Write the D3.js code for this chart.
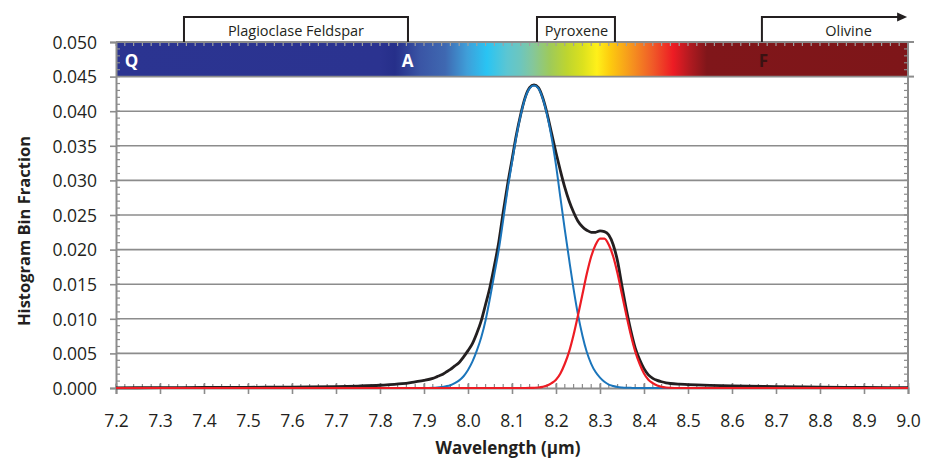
<!DOCTYPE html>
<html><head><meta charset="utf-8">
<script src="https://cdn.jsdelivr.net/npm/d3@7/dist/d3.min.js"></script>
<style>
html,body{margin:0;padding:0;background:#fff;}
svg{display:block;font-family:"Open Sans",sans-serif;}
</style></head><body>
<svg id="chart" width="935" height="458"></svg>
<script>
// ---------------- DATA ----------------
const wavelength = [
  7.20, 7.30, 7.40, 7.50, 7.60, 7.70, 7.75, 7.80, 7.85, 7.88, 7.90, 7.92, 7.93, 7.94, 7.95, 7.96, 7.97, 7.98, 7.99,
  8.00, 8.01, 8.02, 8.03, 8.04, 8.05, 8.06, 8.07, 8.08, 8.09,
  8.10, 8.11, 8.12, 8.13, 8.14, 8.15, 8.16, 8.17, 8.18, 8.19,
  8.20, 8.21, 8.22, 8.23, 8.24, 8.25, 8.26, 8.27, 8.28, 8.29,
  8.30, 8.31, 8.32, 8.33, 8.34, 8.35, 8.36, 8.37, 8.38, 8.39,
  8.40, 8.41, 8.42, 8.43, 8.44, 8.45, 8.46,
  8.48, 8.50, 8.55, 8.60, 8.70, 8.80, 8.90, 9.00
];
// total histogram (black)
const totalFraction = [
  0.00003, 0.00005, 0.00008, 0.0001, 0.00014, 0.0002, 0.00028, 0.0004, 0.00062, 0.0009, 0.0011, 0.0014, 0.00165, 0.0019, 0.0023, 0.0027, 0.0032, 0.0037, 0.0045,
  0.0054, 0.0064, 0.0079, 0.0097, 0.0121, 0.0146, 0.0177, 0.0211, 0.0254, 0.0294,
  0.0330, 0.0366, 0.0396, 0.0420, 0.0434, 0.0438, 0.0434, 0.0419, 0.0396, 0.0368,
  0.0340, 0.0314, 0.0290, 0.0270, 0.0254, 0.0241, 0.0233, 0.0228, 0.0225, 0.0225,
  0.0227, 0.0226, 0.0221, 0.0207, 0.0183, 0.0147, 0.0113, 0.0083, 0.0058, 0.0041,
  0.0028, 0.0019, 0.0014, 0.0011, 0.0009, 0.00075, 0.00065,
  0.00055, 0.0005, 0.00037, 0.0003, 0.0002, 0.00013, 0.00008, 0.00005
];
// first fitted component (blue)
const componentBlue = [
  0, 0, 0, 0, 0, 0, 0, 0, 0, 0, 0, 0.00003, 0.00007, 0.00014, 0.00025, 0.0004, 0.0007, 0.0011, 0.0017,
  0.0026, 0.0038, 0.0054, 0.0073, 0.0098, 0.0130, 0.0165, 0.0200, 0.0243, 0.0287,
  0.0326, 0.0364, 0.0395, 0.0419, 0.0433, 0.0437, 0.0433, 0.0418, 0.0394, 0.0362,
  0.0322, 0.0275, 0.0229, 0.0185, 0.0143, 0.0106, 0.0076, 0.0052, 0.0035, 0.0023,
  0.0015, 0.0009, 0.0005, 0.0003, 0.00015, 0.00008, 0.00004, 0.00002, 0, 0,
  0, 0, 0, 0, 0, 0, 0,
  0, 0, 0, 0, 0, 0, 0, 0
];
// second fitted component (red)
const componentRed = [
  0, 0, 0, 0, 0, 0, 0, 0, 0, 0, 0, 0, 0, 0, 0, 0, 0, 0, 0,
  0, 0, 0, 0, 0, 0, 0, 0, 0, 0,
  0, 0, 0, 0, 0.00001, 0.00003, 0.00007, 0.00017, 0.00035, 0.0007,
  0.0012, 0.0021, 0.0035, 0.0053, 0.0077, 0.0105, 0.0135, 0.0165, 0.0190, 0.0207,
  0.0216, 0.0216, 0.0207, 0.0190, 0.0165, 0.0135, 0.0105, 0.0077, 0.0053, 0.0035,
  0.0021, 0.0012, 0.0007, 0.00035, 0.00017, 0.00007, 0.00003,
  0, 0, 0, 0, 0, 0, 0, 0
];
const xTicks = [7.2, 7.3, 7.4, 7.5, 7.6, 7.7, 7.8, 7.9, 8.0, 8.1, 8.2, 8.3, 8.4, 8.5, 8.6, 8.7, 8.8, 8.9, 9.0];
const yTicks = [0, 0.005, 0.010, 0.015, 0.020, 0.025, 0.030, 0.035, 0.040, 0.045, 0.050];
const xTitle = "Wavelength (\u00b5m)";
const yTitle = "Histogram Bin Fraction";
// mineral ranges (wavelength) shown above the colour band
const mineralNames = ["Plagioclase Feldspar", "Pyroxene", "Olivine"];
const mineralStart = [7.3545, 8.1568, 8.668];
const mineralEnd   = [7.8636, 8.334, 8.998];
const mineralLabelAt = [7.609, 8.2466, 8.8648];
const mineralOpenEnded = [false, false, true];
// end-member letters in the band
const endmemberNames = ["Q", "A", "F"];
const endmemberAt = [7.235, 7.8625, 8.6716];
const endmemberColor = ["#ffffff", "#ffffff", "#3a1212"];
// colour band stops (wavelength, colour)
const bandWave  = [7.2, 7.80, 7.834, 7.891, 7.948, 7.998, 8.043, 8.089, 8.118, 8.148, 8.186, 8.225, 8.261, 8.293, 8.323, 8.375, 8.42, 8.466, 8.505, 8.543, 9.0];
const bandColor = ["#2B3491", "#2B3390", "#262F8A", "#3A55A5", "#3F68B1", "#3F9FD9", "#29C4F3", "#5CC6D2", "#6CC6BF", "#85C79A", "#9ECA5A", "#BED52F", "#DCE11E", "#FFF01A", "#FDCB0F", "#F5901F", "#F05A28", "#ED1C24", "#B01A20", "#80161A", "#7E1619"];

// ---------------- CHART ----------------
const svg = d3.select("#chart");
const W = 935, H = 458;
const m = {left: 116, right: 27, top: 42, bottom: 70};
const x = d3.scaleLinear().domain([7.2, 9.0]).range([m.left, W - m.right]);
const y = d3.scaleLinear().domain([0, 0.05]).range([H - m.bottom, m.top]);
const gridCol = "#8c8c8c", axisCol = "#8c8c8c", ink = "#231F20";
const x0 = x.range()[0], x1 = x.range()[1], y0 = y.range()[0], y1 = y.range()[1];

// colour band
const defs = svg.append("defs");
const grad = defs.append("linearGradient").attr("id", "band")
  .attr("gradientUnits", "userSpaceOnUse")
  .attr("x1", x(7.2)).attr("x2", x(9.0)).attr("y1", 0).attr("y2", 0);
bandWave.forEach((w, i) => grad.append("stop")
  .attr("offset", (w - 7.2) / 1.8).attr("stop-color", bandColor[i]));
svg.append("rect").attr("x", x(7.2)).attr("y", y(0.05))
  .attr("width", x(9.0) - x(7.2)).attr("height", y(0.045) - y(0.05))
  .attr("fill", "url(#band)");

// gridlines
svg.append("g").selectAll("line").data(yTicks.filter(d => d > 0 && d < 0.05)).join("line")
  .attr("x1", x0).attr("x2", x1).attr("y1", d => y(d)).attr("y2", d => y(d))
  .attr("stroke", gridCol).attr("stroke-width", 1.6);

// minor ticks
const xMinor = d3.range(0, 91).map(i => 7.2 + i * 0.02);
const yMinor = d3.range(0, 51).map(i => i * 0.001);
const ticks = svg.append("g").attr("stroke", axisCol).attr("stroke-width", 1.2);
ticks.selectAll(".xb").data(xMinor).join("line").attr("class", "xb")
  .attr("x1", d => x(d)).attr("x2", d => x(d)).attr("y1", y0).attr("y2", y0 - 4);
ticks.selectAll(".xt").data(xMinor).join("line").attr("class", "xt")
  .attr("x1", d => x(d)).attr("x2", d => x(d)).attr("y1", y1).attr("y2", y1 + 4)
  .attr("stroke", "#a0a0a0");
ticks.selectAll(".yl").data(yMinor).join("line").attr("class", "yl")
  .attr("x1", x0).attr("x2", x0 + 4).attr("y1", d => y(d)).attr("y2", d => y(d));
ticks.selectAll(".yr").data(yMinor).join("line").attr("class", "yr")
  .attr("x1", x1).attr("x2", x1 - 4).attr("y1", d => y(d)).attr("y2", d => y(d));

// frame lines
const frame = svg.append("g").attr("stroke", axisCol).attr("stroke-width", 2).attr("fill", "none");
frame.append("line").attr("x1", x0).attr("x2", x1 + 6).attr("y1", y1).attr("y2", y1);
frame.append("line").attr("x1", x1).attr("x2", x1 + 6).attr("y1", y(0.045)).attr("y2", y(0.045));
frame.append("line").attr("x1", x1).attr("x2", x1).attr("y1", y1).attr("y2", y0);

// left axis
const yAxis = svg.append("g").attr("transform", `translate(${x0},0)`)
  .call(d3.axisLeft(y).tickValues(yTicks).tickFormat(d3.format(".3f")).tickSize(6).tickPadding(13));
yAxis.select(".domain").attr("stroke", axisCol).attr("stroke-width", 2);
yAxis.selectAll(".tick line").attr("stroke", axisCol).attr("stroke-width", 1.6);
yAxis.selectAll(".tick text").attr("fill", ink).style("font-size", "17.5px")
  .style("font-family", "'Open Sans', sans-serif").attr("dy", "0.36em");

// bottom axis
const xAxis = svg.append("g").attr("transform", `translate(0,${y0})`)
  .call(d3.axisBottom(x).tickValues(xTicks).tickFormat(d3.format(".1f")).tickSize(6).tickPadding(0));
xAxis.select(".domain").attr("stroke", axisCol).attr("stroke-width", 2);
xAxis.selectAll(".tick line").attr("stroke", axisCol).attr("stroke-width", 1.6).attr("y1", -5);
xAxis.selectAll(".tick text").attr("fill", ink).style("font-size", "17.5px")
  .style("font-family", "'Open Sans', sans-serif").attr("y", 26).attr("dy", "0.71em")
  .attr("dy", null).attr("y", 38.5);

// curves
const pts = arr => wavelength.map((w, i) => [w, arr[i]]);
const line = d3.line().x(d => x(d[0])).y(d => y(d[1])).curve(d3.curveMonotoneX);
svg.append("path").datum(pts(totalFraction)).attr("d", line)
  .attr("fill", "none").attr("stroke", ink).attr("stroke-width", 2.8).attr("stroke-linejoin", "round");
svg.append("path").datum(pts(componentBlue)).attr("d", line)
  .attr("fill", "none").attr("stroke", "#1B75BB").attr("stroke-width", 2);
svg.append("path").datum(pts(componentRed)).attr("d", line)
  .attr("fill", "none").attr("stroke", "#ED1C24").attr("stroke-width", 2.2);

// end-member letters
svg.append("g").selectAll("text").data(endmemberNames).join("text")
  .attr("x", (d, i) => x(endmemberAt[i])).attr("y", 67)
  .attr("text-anchor", "middle").attr("fill", (d, i) => endmemberColor[i])
  .style("font-size", "17px").style("font-weight", "700").text(d => d);

// mineral brackets
const br = svg.append("g").attr("fill", "none").attr("stroke", ink).attr("stroke-width", 2);
mineralNames.forEach((n, i) => {
  const a = x(mineralStart[i]), b = x(mineralEnd[i]), top = 17, base = y(0.05);
  if (mineralOpenEnded[i]) {
    br.append("path").attr("d", `M${a},${base}V${top}H${b - 9}`);
    svg.append("path").attr("d", `M${b - 10},${top - 4.5}L${b},${top}L${b - 10},${top + 4.5}Z`).attr("fill", ink);
  } else {
    br.append("path").attr("d", `M${a},${base}V${top}H${b}V${base}`);
  }
  svg.append("text").attr("x", x(mineralLabelAt[i])).attr("y", 36)
    .attr("text-anchor", "middle").attr("fill", ink).style("font-size", "14.5px").text(n);
});

// axis titles
svg.append("text").attr("x", 508).attr("y", 454).attr("text-anchor", "middle")
  .attr("fill", ink).style("font-size", "17px").style("font-weight", "700").text(xTitle);
svg.append("text").attr("transform", "translate(30,231) rotate(-90)").attr("text-anchor", "middle")
  .attr("fill", ink).style("font-size", "16.5px").style("font-weight", "700").text(yTitle);
</script>
</body></html>
